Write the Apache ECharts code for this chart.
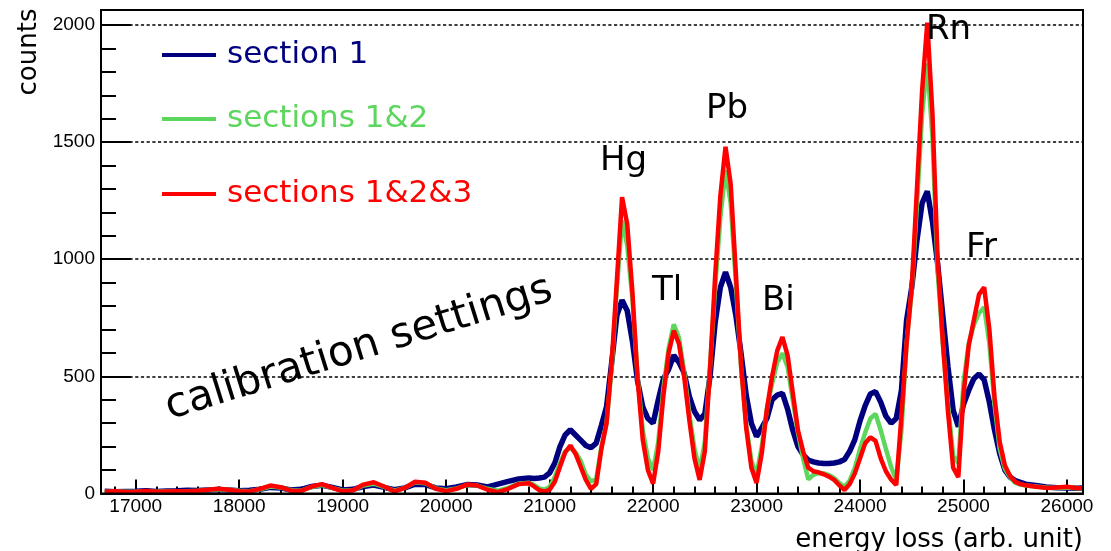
<!DOCTYPE html>
<html>
<head>
<meta charset="utf-8">
<script src="https://cdn.jsdelivr.net/npm/echarts@6/dist/echarts.min.js"></script>
<style>
  html, body { margin: 0; padding: 0; background: #fff; }
  #chart { width: 1111px; height: 551px; }
</style>
</head>
<body>
<div id="chart"></div>
<script>
// ---- data ----
const energy = [
  16700,16800,16900,17000,17100,17200,17300,17400,17500,17600,17700,17800,17900,
  18000,18100,18200,18300,18400,18500,18600,18700,18800,18900,
  19000,19100,19200,19300,19400,19500,19600,19700,19800,19900,
  20000,20100,20200,20300,20400,20500,20600,20700,20800,
  20850,20900,20950,21000,21050,21100,21150,21200,21250,21300,21350,21400,21450,
  21500,21550,21600,21650,21700,21750,21800,21850,21900,21950,
  22000,22050,22100,22150,22200,22250,22300,22350,22400,22450,
  22500,22550,22600,22650,22700,22750,22800,22850,22900,22950,
  23000,23050,23100,23150,23200,23250,23300,23350,23400,23450,
  23500,23550,23600,23650,23700,23750,23800,23850,23900,23950,
  24000,24050,24100,24150,24200,24250,24300,24350,24400,24450,
  24500,24550,24600,24650,24700,24750,24800,24850,24900,24950,
  25000,25050,25100,25150,25200,25250,25300,25350,25400,25450,
  25500,25550,25600,25700,25800,25900,26000,26100,26150
];
const section1 = [
  10,8,9,10,12,9,11,12,14,13,15,17,15,
  12,14,18,26,24,15,18,30,35,26,
  15,18,30,36,26,16,24,40,38,24,
  20,28,38,36,28,40,52,62,66,
  64,66,70,88,130,200,250,272,250,228,205,195,215,
  290,370,560,760,825,780,650,480,370,320,
  300,400,490,530,590,560,515,415,350,314,
  340,500,730,880,945,880,760,598,420,300,
  243,280,320,400,420,428,360,270,200,165,
  143,135,130,128,128,130,135,145,180,230,
  310,375,425,435,390,330,300,320,440,740,
  880,1080,1240,1290,1160,980,760,541,356,285,
  380,440,490,510,485,390,270,170,100,70,
  55,48,40,34,28,25,24,22,23
];
const sections12 = [
  8,9,7,8,10,8,10,9,10,12,15,18,16,
  12,10,18,30,26,14,12,28,36,24,
  12,14,34,42,28,12,24,48,44,22,
  14,22,36,34,20,12,24,42,46,
  36,22,16,28,70,130,180,195,175,140,80,52,60,
  200,300,540,880,1165,1060,830,500,270,150,
  100,220,450,620,722,665,520,340,190,100,
  220,540,880,1180,1380,1240,900,540,290,140,
  80,200,360,470,560,598,540,400,260,150,
  60,80,88,86,78,66,45,29,55,110,
  190,260,320,340,270,190,114,58,270,640,
  870,1230,1620,1836,1520,950,640,380,160,130,
  470,640,720,770,795,640,380,190,105,70,
  45,38,34,30,26,24,26,22,22
];
const sections123 = [
  8,10,6,8,11,7,9,10,9,12,16,20,16,
  10,9,20,34,27,12,11,30,40,24,
  9,14,38,48,30,9,24,50,46,20,
  10,20,38,34,16,6,20,40,44,
  30,14,8,16,50,114,175,205,170,114,58,20,40,
  190,300,560,910,1265,1150,860,490,230,100,
  42,180,420,600,695,640,500,314,150,58,
  180,530,930,1270,1480,1320,940,550,280,110,
  45,170,360,500,610,668,590,430,270,180,
  110,95,90,82,72,58,35,15,40,86,
  150,215,240,225,150,95,60,36,330,640,
  880,1300,1720,2010,1620,1000,650,350,110,70,
  420,630,740,850,880,700,410,220,120,75,
  50,40,35,29,24,26,29,22,24
];
const xMajorTicks = [17000,18000,19000,20000,21000,22000,23000,24000,25000,26000];
const xMinorTicks = [16800,17000,17200,17400,17600,17800,18000,18200,18400,18600,18800,19000,19200,19400,19600,19800,20000,20200,20400,20600,20800,21000,21200,21400,21600,21800,22000,22200,22400,22600,22800,23000,23200,23400,23600,23800,24000,24200,24400,24600,24800,25000,25200,25400,25600,25800,26000];
const yMajorTicks = [0,500,1000,1500,2000];
const yMinorTicks = [100,200,300,400,600,700,800,900,1100,1200,1300,1400,1600,1700,1800,1900];
const seriesNames = ['section 1', 'sections 1&2', 'sections 1&2&3'];
const seriesColors = ['#00007f', '#5cd65c', '#ff0000'];
const peakLabels = ['Hg', 'Tl', 'Pb', 'Bi', 'Rn', 'Fr'];

// ---- chart ----
const chart = echarts.init(document.getElementById('chart'), null, { renderer: 'canvas' });
const X_MIN = 16664, X_MAX = 26155, Y_MAX = 2064;
const font = 'DejaVu Sans';
const tickFont = 'Liberation Sans';

function pairs(arr) { return energy.map((e, i) => [e, arr[i]]); }

const peakPos = [[600,161],[652,291],[706,109],[762,301],[926,30],[966,248]];
const legendY = [55, 119, 194];

const graphics = [];
seriesNames.forEach((n, i) => {
  graphics.push({
    type: 'rect', shape: { x: 162, y: legendY[i] - 2, width: 54, height: 4 },
    style: { fill: seriesColors[i] }, z: 100
  });
  graphics.push({
    type: 'text', x: 227, y: legendY[i],
    style: { text: n, fill: seriesColors[i], font: '31px "' + font + '"', textAlign: 'left', textVerticalAlign: 'middle' },
    z: 100
  });
});
peakLabels.forEach((t, i) => {
  graphics.push({
    type: 'text', x: peakPos[i][0], y: peakPos[i][1],
    style: { text: t, fill: '#000', font: '34px "' + font + '"', textAlign: 'left', textVerticalAlign: 'middle' },
    z: 100
  });
});
graphics.push({
  type: 'text', x: 359, y: 349, rotation: 0.302,
  style: { text: 'calibration settings', fill: '#000', font: '42px "' + font + '"', textAlign: 'center', textVerticalAlign: 'middle' },
  z: 100
});
graphics.push({
  type: 'text', x: 29, y: 52, rotation: Math.PI / 2,
  style: { text: 'counts', fill: '#000', font: '26px "' + font + '"', textAlign: 'center', textVerticalAlign: 'middle' },
  z: 100
});
graphics.push({
  type: 'text', x: 1083, y: 540,
  style: { text: 'energy loss (arb. unit)', fill: '#000', font: '26px "' + font + '"', textAlign: 'right', textVerticalAlign: 'middle' },
  z: 100
});

const option = {
  animation: false,
  backgroundColor: '#fff',
  grid: { left: 101, right: 28, top: 10, bottom: 57.5, show: true, borderColor: '#000', borderWidth: 2, backgroundColor: 'transparent', z: 10 },
  xAxis: [
    {
      type: 'value', min: X_MIN, max: X_MAX, position: 'bottom',
      axisLine: { show: true, onZero: false, lineStyle: { color: '#000', width: 2 } },
      axisTick: { show: true, inside: true, length: 14, customValues: xMajorTicks, lineStyle: { color: '#000', width: 2 } },
      axisLabel: { show: true, customValues: xMajorTicks, margin: 4, color: '#000', fontFamily: tickFont, fontSize: 19, formatter: v => String(v) },
      splitLine: { show: false }
    },
    {
      type: 'value', min: X_MIN, max: X_MAX, position: 'bottom', offset: 0,
      axisLine: { show: false, onZero: false },
      axisTick: { show: true, inside: true, length: 7, customValues: xMinorTicks, lineStyle: { color: '#000', width: 2 } },
      axisLabel: { show: false },
      splitLine: { show: false }
    }
  ],
  yAxis: [
    {
      type: 'value', min: 0, max: Y_MAX, interval: 500, position: 'left',
      axisLine: { show: true, onZero: false, lineStyle: { color: '#000', width: 2 } },
      axisTick: { show: true, inside: true, length: 30, customValues: yMajorTicks, lineStyle: { color: '#000', width: 2 } },
      axisLabel: { show: true, customValues: yMajorTicks, margin: 6, color: '#000', fontFamily: tickFont, fontSize: 19, formatter: v => String(v) },
      splitLine: { show: true, lineStyle: { color: '#000', width: 1.6, type: [3.2, 2.5] } }
    },
    {
      type: 'value', min: 0, max: Y_MAX, position: 'left', offset: 0,
      axisLine: { show: false, onZero: false },
      axisTick: { show: true, inside: true, length: 15, customValues: yMinorTicks, lineStyle: { color: '#000', width: 2 } },
      axisLabel: { show: false },
      splitLine: { show: false }
    }
  ],
  series: [
    { name: seriesNames[0], type: 'line', data: pairs(section1), showSymbol: false, symbol: 'none',
      lineStyle: { color: seriesColors[0], width: 5.5 }, itemStyle: { color: seriesColors[0] }, z: 2 },
    { name: seriesNames[1], type: 'line', data: pairs(sections12), showSymbol: false, symbol: 'none',
      lineStyle: { color: seriesColors[1], width: 4.5 }, itemStyle: { color: seriesColors[1] }, z: 3 },
    { name: seriesNames[2], type: 'line', data: pairs(sections123), showSymbol: false, symbol: 'none',
      lineStyle: { color: seriesColors[2], width: 4.5 }, itemStyle: { color: seriesColors[2] }, z: 4 }
  ],
  graphic: graphics
};
chart.setOption(option);
</script>
</body>
</html>
